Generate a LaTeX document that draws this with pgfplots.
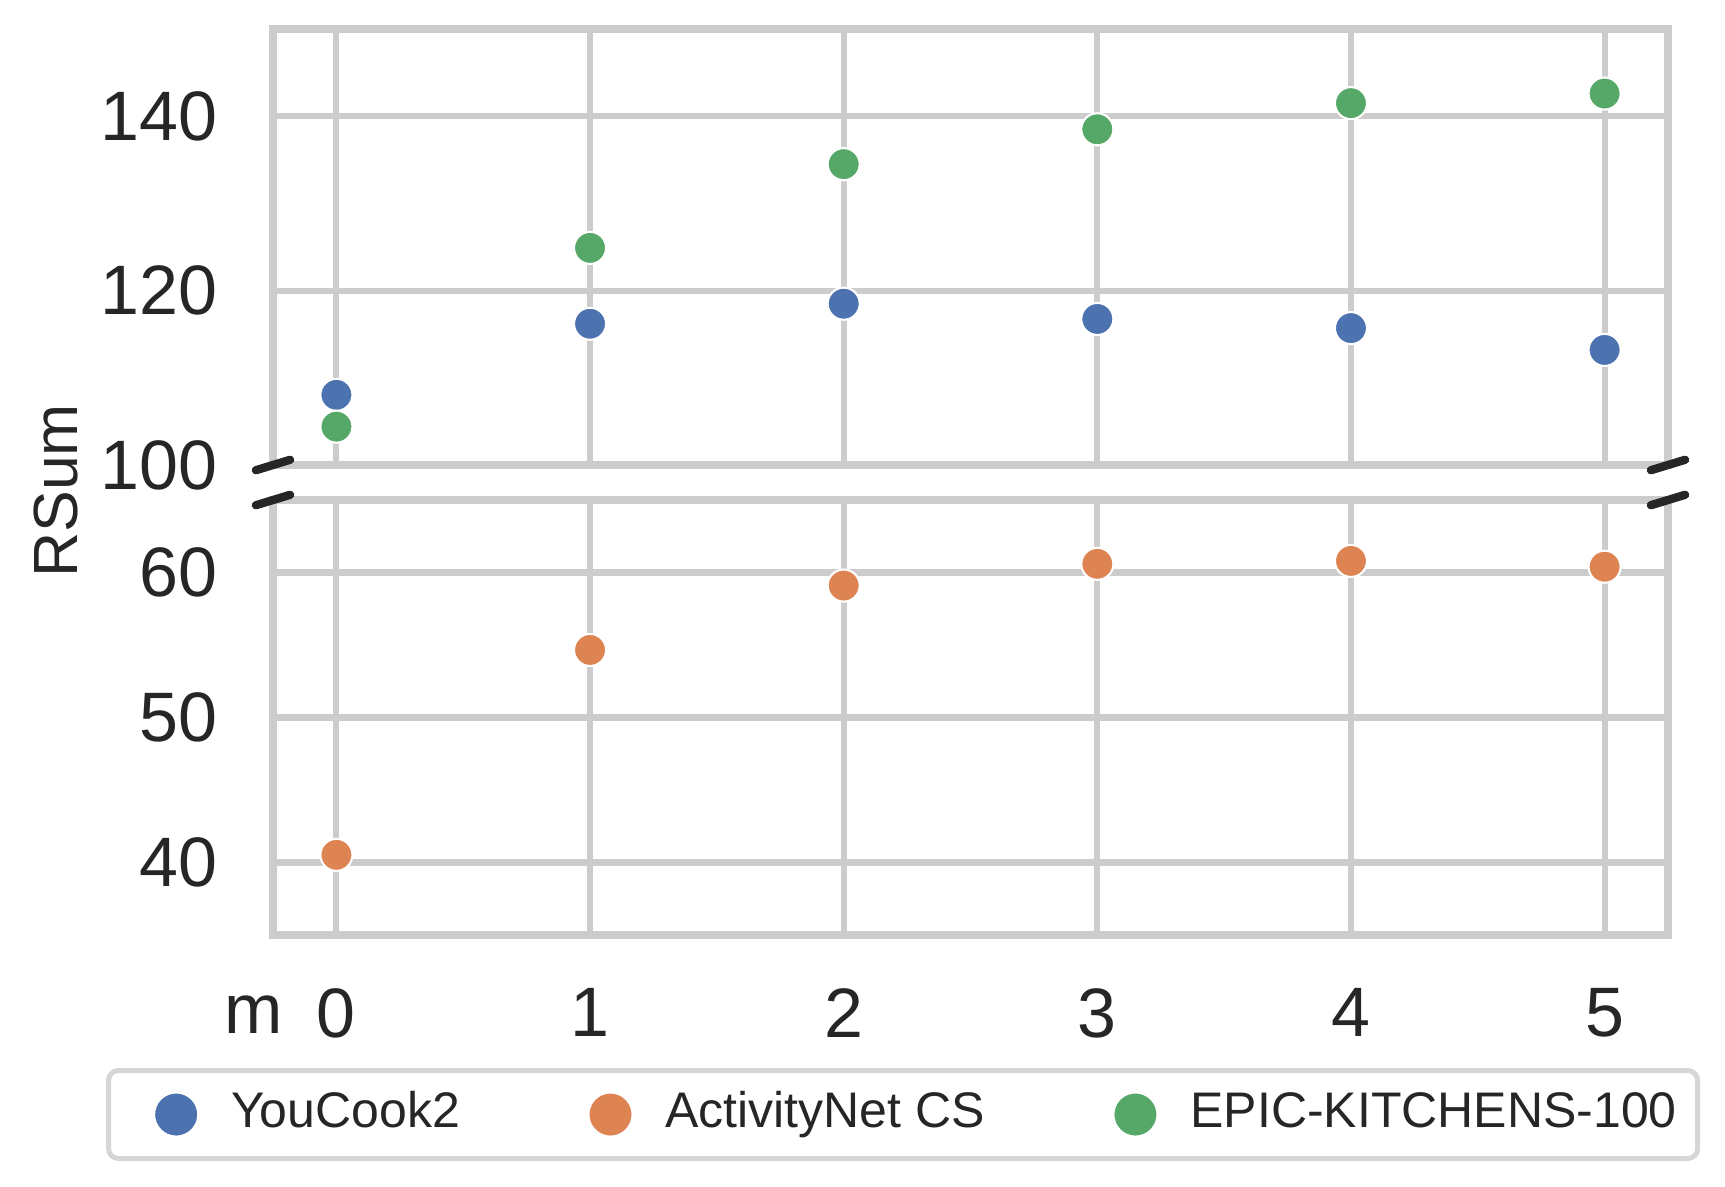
\documentclass[border=0pt]{standalone}
\usepackage{fontspec}
\setmainfont{Liberation Sans}
\usepackage{pgfplots}
\pgfplotsset{compat=1.18}
\definecolor{sbblue}{HTML}{4C72B0}
\definecolor{sborange}{HTML}{DD8452}
\definecolor{sbgreen}{HTML}{55A868}
\definecolor{gridgray}{HTML}{CCCCCC}
\definecolor{leggray}{HTML}{D6D6D6}
\definecolor{txt}{HTML}{262626}
\pgfplotsset{
  brk/.style={
    scale only axis, width=334.8pt,
    xmin=-0.25, xmax=5.25, xtick={0,1,2,3,4,5},
    grid=major,
    major grid style={line width=1.45pt, gridgray},
    axis line style={line width=1.75pt, gridgray},
    major tick length=0pt,
    tick style={draw=none},
    /pgf/number format/assume math mode=true,
    ticklabel style={font=\fontsize{16.8}{20}\selectfont, text=txt},
    yticklabel style={anchor=east, inner sep=0pt, xshift=-13.2pt},
    xticklabel style={anchor=north, inner sep=0pt, yshift=-12.7pt},
    clip=false,
  },
  sc/.style={only marks, mark=*, mark size=3.85pt,
    mark options={draw=white, line width=0.5pt, fill=#1}},
}
\begin{document}
\begin{tikzpicture}
\useasboundingbox (0,0) rectangle (414pt,284.64pt);
% top panel
\begin{axis}[brk, at={(65.52pt,173.04pt)}, anchor=south west, height=104.64pt,
  ymin=100, ymax=150, ytick={100,120,140}, xticklabels={}]
\addplot[sc=sbblue] coordinates {(0,108.05) (1,116.2) (2,118.5) (3,116.75) (4,115.7) (5,113.2)};
\addplot[sc=sbgreen] coordinates {(0,104.4) (1,124.9) (2,134.5) (3,138.5) (4,141.5) (5,142.6)};
\draw[txt, line width=2pt, line cap=round] (rel axis cs:0,0) ++(-4.1pt,-1.25pt) -- ++(8.2pt,2.5pt);
\draw[txt, line width=2pt, line cap=round] (rel axis cs:1,0) ++(-4.1pt,-1.25pt) -- ++(8.2pt,2.5pt);
\end{axis}
% bottom panel
\begin{axis}[brk, at={(65.52pt,60.24pt)}, anchor=south west, height=104.4pt,
  ymin=35, ymax=65, ytick={40,50,60},
  legend columns=3,
  legend image code/.code={
    \path[draw=none, fill=none] (-11.2pt,-10.56pt) (13.2pt,10.56pt);
    \draw[mark repeat=2, mark phase=2, #1, mark size=5.3pt] plot coordinates {(-1pt,0pt) (0pt,0pt) (1pt,0pt)};
  },
  legend style={at={(axis description cs:-0.11971,-0.30575)}, anchor=north west,
    draw=leggray, line width=1.2pt, rounded corners=2.4pt,
    inner xsep=5.04pt, inner ysep=0pt,
    font=\fontsize{12}{14}\selectfont, text=txt,
    nodes={inner sep=0pt, text height=0.72em, text depth=0.08em},
    cells={anchor=west},
    /tikz/every even column/.append style={column sep=24.9pt}},
]
\addlegendimage{sc=sbblue}
\addlegendentry{YouCook2}
\addplot[sc=sborange] coordinates {(0,40.53) (1,54.66) (2,59.1) (3,60.6) (4,60.8) (5,60.4)};
\addlegendentry{ActivityNet CS}
\addlegendimage{sc=sbgreen}
\addlegendentry{EPIC-KITCHENS-100\hspace{0.6pt}}
\draw[txt, line width=2pt, line cap=round] (rel axis cs:0,1) ++(-4.1pt,-1.25pt) -- ++(8.2pt,2.5pt);
\draw[txt, line width=2pt, line cap=round] (rel axis cs:1,1) ++(-4.1pt,-1.25pt) -- ++(8.2pt,2.5pt);
\end{axis}
\node[rotate=90, inner sep=0pt, text=txt, font=\fontsize{15}{18}\selectfont] at (13.49pt,166.85pt) {RSum};
\node[inner sep=0pt, text=txt, font=\fontsize{16.8}{20}\selectfont] at (60.96pt,41.16pt) {m};
\end{tikzpicture}
\end{document}
